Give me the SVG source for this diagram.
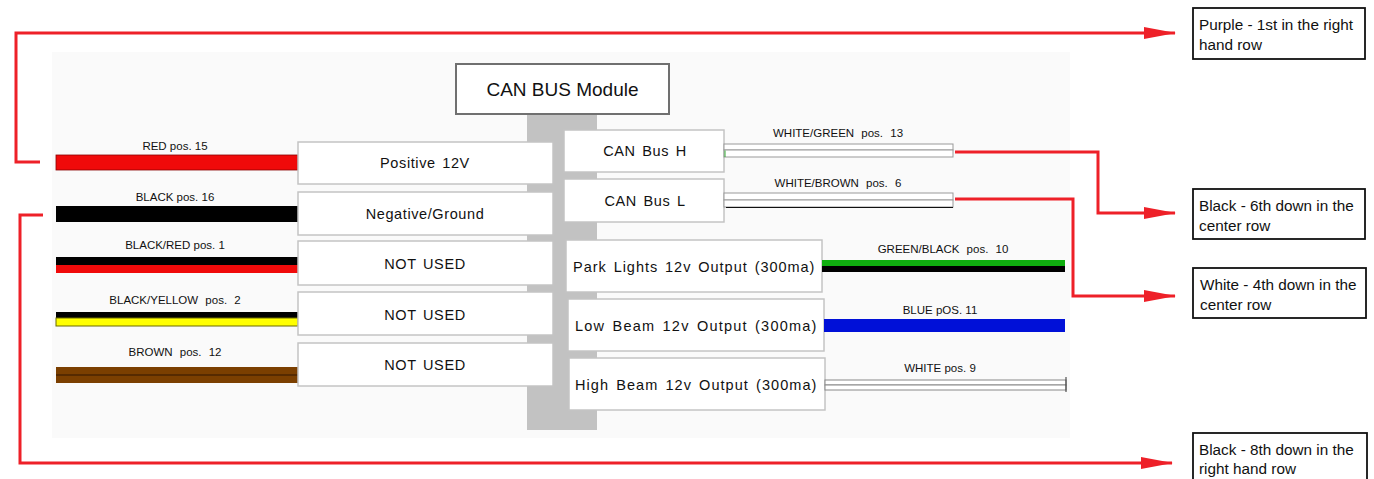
<svg xmlns="http://www.w3.org/2000/svg" width="1374" height="479" viewBox="0 0 1374 479">
<defs>
<style>
.bx{fill:#ffffff;stroke:#c4c4c4;stroke-width:1.5}
.bt{font-family:"Liberation Sans",Arial,sans-serif;font-size:14.5px;fill:#111;text-anchor:middle;letter-spacing:0.6px;word-spacing:2px}
.wl{font-family:"Liberation Sans",Arial,sans-serif;font-size:11.5px;fill:#111;text-anchor:middle}
.ws{word-spacing:4px}
.nt{fill:#fff;stroke:#111;stroke-width:1.8}
.ntt{font-family:"Liberation Sans",Arial,sans-serif;font-size:15.3px;fill:#111}
.con{fill:none;stroke:#ee2028;stroke-width:3;stroke-linejoin:miter}
</style>
<marker id="ah" markerWidth="32" markerHeight="12" refX="31" refY="6" orient="auto" markerUnits="userSpaceOnUse">
<path d="M0,0 L32,6 L0,12 Z" fill="#ee2028"/>
</marker>
</defs>
<rect width="1374" height="479" fill="#ffffff"/>
<rect x="52" y="52" width="1018" height="386" fill="#fafafa"/>
<rect x="527" y="114" width="70" height="316" fill="#c2c2c2"/>

<g id="module">
<rect x="456" y="64" width="213" height="50" fill="#fff" stroke="#707070" stroke-width="2"/>
<text x="562.5" y="96" font-family="Liberation Sans,Arial,sans-serif" font-size="19" text-anchor="middle" fill="#111">CAN BUS Module</text>
</g>

<g id="wires-left">
<rect x="56" y="155" width="242" height="15" fill="#f00a0a" stroke="#8a0000" stroke-width="0.8"/>
<rect x="56" y="206" width="242" height="16" fill="#000"/>
<rect x="56" y="257" width="242" height="8" fill="#000"/>
<rect x="56" y="265" width="242" height="8" fill="#f00a0a"/>
<rect x="56" y="312" width="242" height="6" fill="#000"/>
<rect x="56" y="318" width="242" height="8" fill="#ffff00" stroke="#6a6a00" stroke-width="1"/>
<rect x="56" y="367" width="242" height="16" fill="#7b3f00"/>
<line x1="56" y1="375" x2="298" y2="375" stroke="#4a2400" stroke-width="1.5"/>
<text class="wl" x="175" y="150">RED pos. 15</text>
<text class="wl" x="175" y="201">BLACK pos. 16</text>
<text class="wl" x="175" y="249">BLACK/RED pos. 1</text>
<text class="wl ws" x="175" y="304">BLACK/YELLOW pos. 2</text>
<text class="wl ws" x="175" y="356">BROWN pos. 12</text>
</g>

<g id="positive"><rect class="bx" x="298" y="142" width="255" height="42"/><text class="bt" x="425" y="168">Positive 12V</text></g>
<g id="negative"><rect class="bx" x="298" y="192" width="255" height="43"/><text class="bt" x="425" y="219">Negative/Ground</text></g>
<g id="notused1"><rect class="bx" x="298" y="241" width="255" height="44"/><text class="bt" x="425" y="269">NOT USED</text></g>
<g id="notused2"><rect class="bx" x="298" y="292" width="255" height="43"/><text class="bt" x="425" y="320">NOT USED</text></g>
<g id="notused3"><rect class="bx" x="298" y="343" width="255" height="43"/><text class="bt" x="425" y="370">NOT USED</text></g>

<g id="canh"><rect class="bx" x="564" y="130" width="160" height="42"/><text class="bt" x="645" y="156">CAN  Bus  H</text></g>
<g id="canl"><rect class="bx" x="564" y="179" width="160" height="43"/><text class="bt" x="645" y="206">CAN  Bus  L</text></g>
<g id="park"><rect class="bx" x="566" y="240" width="256" height="52"/><text class="bt" x="694" y="272" textLength="242" lengthAdjust="spacing">Park Lights 12v Output (300ma)</text></g>
<g id="low"><rect class="bx" x="568" y="299" width="256" height="52"/><text class="bt" x="696" y="331" textLength="242" lengthAdjust="spacing">Low Beam 12v Output (300ma)</text></g>
<g id="high"><rect class="bx" x="569" y="358" width="256" height="52"/><text class="bt" x="696" y="390" textLength="242" lengthAdjust="spacing">High Beam 12v Output (300ma)</text></g>

<g id="wires-right">
<rect x="724" y="144" width="229" height="6" fill="#fff" stroke="#999" stroke-width="1"/>
<rect x="724" y="150" width="229" height="7" fill="#fff" stroke="#999" stroke-width="1"/>
<line x1="725" y1="150.5" x2="725" y2="157" stroke="#3a3" stroke-width="1"/>
<rect x="724" y="193" width="229" height="7" fill="#fff" stroke="#999" stroke-width="1"/>
<rect x="724" y="200" width="229" height="7" fill="#fff" stroke="#999" stroke-width="1"/>
<line x1="726" y1="207.5" x2="953" y2="207.5" stroke="#111" stroke-width="1.2"/>
<rect x="822" y="260" width="243" height="6" fill="#0fae0f"/>
<rect x="822" y="266" width="243" height="6" fill="#000"/>
<rect x="824" y="319" width="241" height="13" fill="#0010d8"/>
<rect x="825" y="380" width="241" height="5" fill="#fff" stroke="#888" stroke-width="1"/>
<rect x="825" y="385" width="241" height="5" fill="#fff" stroke="#888" stroke-width="1"/>
<line x1="1066" y1="377" x2="1066" y2="392" stroke="#333" stroke-width="1"/>
<text class="wl ws" x="838" y="137">WHITE/GREEN pos. 13</text>
<text class="wl ws" x="838" y="187">WHITE/BROWN pos. 6</text>
<text class="wl ws" x="943" y="253">GREEN/BLACK pos. 10</text>
<text class="wl" x="940" y="314">BLUE pOS. 11</text>
<text class="wl" x="940" y="372">WHITE pos. 9</text>
</g>

<g id="connectors">
<polyline class="con" points="40,162 16,162 16,33 1175,33" marker-end="url(#ah)"/>
<polyline class="con" points="43,215 20,215 20,463 1172,463" marker-end="url(#ah)"/>
<polyline class="con" points="955,152 1098,152 1098,213 1175,213" marker-end="url(#ah)"/>
<polyline class="con" points="955,199 1073,199 1073,296 1175,296" marker-end="url(#ah)"/>
</g>

<g id="note1"><rect class="nt" x="1193" y="8" width="172" height="51"/><text class="ntt" x="1199" y="30">Purple - 1st in the right</text><text class="ntt" x="1199" y="50">hand row</text></g>
<g id="note2"><rect class="nt" x="1193" y="189" width="172" height="50"/><text class="ntt" x="1199" y="211">Black - 6th down in the</text><text class="ntt" x="1199" y="231">center row</text></g>
<g id="note3"><rect class="nt" x="1193" y="268" width="173" height="50"/><text class="ntt" x="1200" y="290">White - 4th down in the</text><text class="ntt" x="1200" y="310">center row</text></g>
<g id="note4"><rect class="nt" x="1193" y="433" width="174" height="52"/><text class="ntt" x="1199" y="455">Black - 8th down in the</text><text class="ntt" x="1199" y="474">right hand row</text></g>
</svg>
